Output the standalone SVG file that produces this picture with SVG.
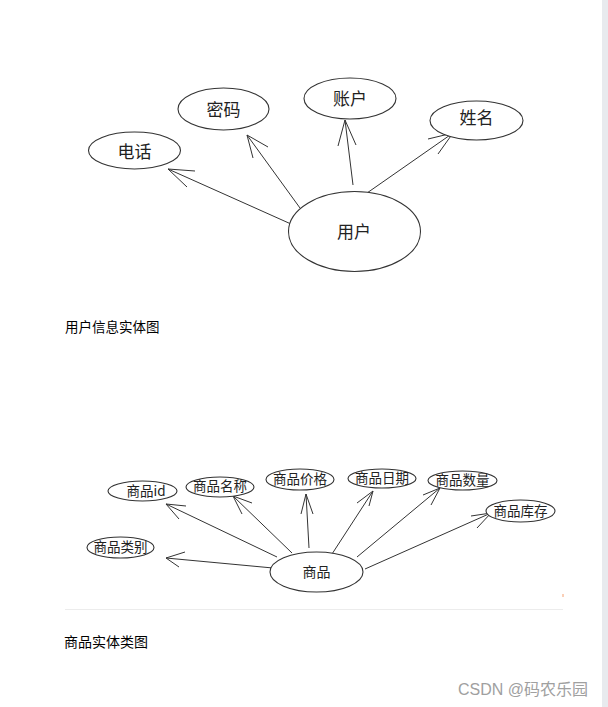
<svg xmlns="http://www.w3.org/2000/svg" width="608" height="707" viewBox="0 0 608 707">
<style>
.e{fill:#fff;stroke:#333;stroke-width:1.1}
.c{fill:none;stroke:#333;stroke-width:1}
.t1{font-family:"Noto Sans CJK SC","Noto Sans",sans-serif;font-size:17px;fill:#222;text-anchor:middle;dominant-baseline:central}
.t2{font-family:"Noto Sans CJK SC","Noto Sans",sans-serif;font-size:13.5px;fill:#222;text-anchor:middle;dominant-baseline:central}
.cap{font-family:"Noto Sans CJK SC",sans-serif;font-size:14px;fill:#000}
</style>
<rect width="608" height="707" fill="#fff"/>
<rect x="602" y="0" width="6" height="707" fill="#e8eaee"/>
<g id="connectors">
<path class="c" d="M291,224 L168,169 M195,171 L168,169 L187,187"/>
<path class="c" d="M300,208 L247,135 M268,147 L247,135 L253,158"/>
<path class="c" d="M353,185 L345,120 M338,146 L345,120 L356,145"/>
<path class="c" d="M367,193 L453,133 M428,139 L453,133 L438,154"/>
<path class="c" d="M277,557 L166,504 M186,506 L166,504 L179,519"/>
<path class="c" d="M292,553 L233,496 M252,503 L233,496 L242,514"/>
<path class="c" d="M309,548 L306,494 M301,514 L306,494 L313,514"/>
<path class="c" d="M332,554 L373,491 M357,503 L373,491 L369,506"/>
<path class="c" d="M357,557 L440,488 M423,495 L440,488 L431,505"/>
<path class="c" d="M365,569 L491,513 M471,516 L491,513 L477,528"/>
<path class="c" d="M273,568 L166,558 M185,552 L166,558 L179,567"/>
</g>
<g id="n-phone"><ellipse class="e" cx="134.5" cy="150.5" rx="46" ry="18.5"/><text class="t1" x="134.5" y="150.5">电话</text></g>
<g id="n-pwd"><ellipse class="e" cx="223.5" cy="109" rx="45.5" ry="21"/><text class="t1" x="223.5" y="108">密码</text></g>
<g id="n-acct"><ellipse class="e" cx="350" cy="98.5" rx="46" ry="20.5"/><text class="t1" x="350" y="97">账户</text></g>
<g id="n-name"><ellipse class="e" cx="476.5" cy="120.5" rx="46.5" ry="19.5"/><text class="t1" x="476.5" y="116">姓名</text></g>
<g id="n-user"><ellipse class="e" cx="354.5" cy="231.5" rx="66" ry="40"/><text class="t1" x="354" y="230">用户</text></g>
<g id="n-gid"><ellipse class="e" cx="142.5" cy="491" rx="34.5" ry="10"/><text class="t2" x="146" y="490">商品id</text></g>
<g id="n-gname"><ellipse class="e" cx="220" cy="487" rx="34" ry="10"/><text class="t2" x="220" y="485">商品名称</text></g>
<g id="n-gprice"><ellipse class="e" cx="300" cy="479.5" rx="34" ry="10.5"/><text class="t2" x="300" y="478">商品价格</text></g>
<g id="n-gdate"><ellipse class="e" cx="382" cy="478.5" rx="34" ry="9.5"/><text class="t2" x="382" y="477">商品日期</text></g>
<g id="n-gqty"><ellipse class="e" cx="462.5" cy="480.5" rx="34.5" ry="9.5"/><text class="t2" x="462.5" y="479">商品数量</text></g>
<g id="n-gstock"><ellipse class="e" cx="520.5" cy="511" rx="34.5" ry="11"/><text class="t2" x="520.5" y="510">商品库存</text></g>
<g id="n-gcat"><ellipse class="e" cx="120.5" cy="547.5" rx="33.5" ry="10.5"/><text class="t2" x="120.5" y="546">商品类别</text></g>
<g id="n-goods"><ellipse class="e" cx="316.5" cy="572" rx="46.5" ry="20"/><text class="t2" x="316.5" y="571" style="font-size:14px">商品</text></g>
<text class="cap" x="65" y="332" style="font-size:13.5px">用户信息实体图</text>
<line x1="65" y1="609.5" x2="563" y2="609.5" stroke="#ececec" stroke-width="1"/>
<line x1="563" y1="594" x2="563" y2="597" stroke="#f5a070" stroke-width="1"/>
<text class="cap" x="64" y="647">商品实体类图</text>
<text x="458" y="695" font-family="'Liberation Sans','Noto Sans CJK SC',sans-serif" font-size="16" fill="#a0a0a0">CSDN @码农乐园</text>
</svg>
